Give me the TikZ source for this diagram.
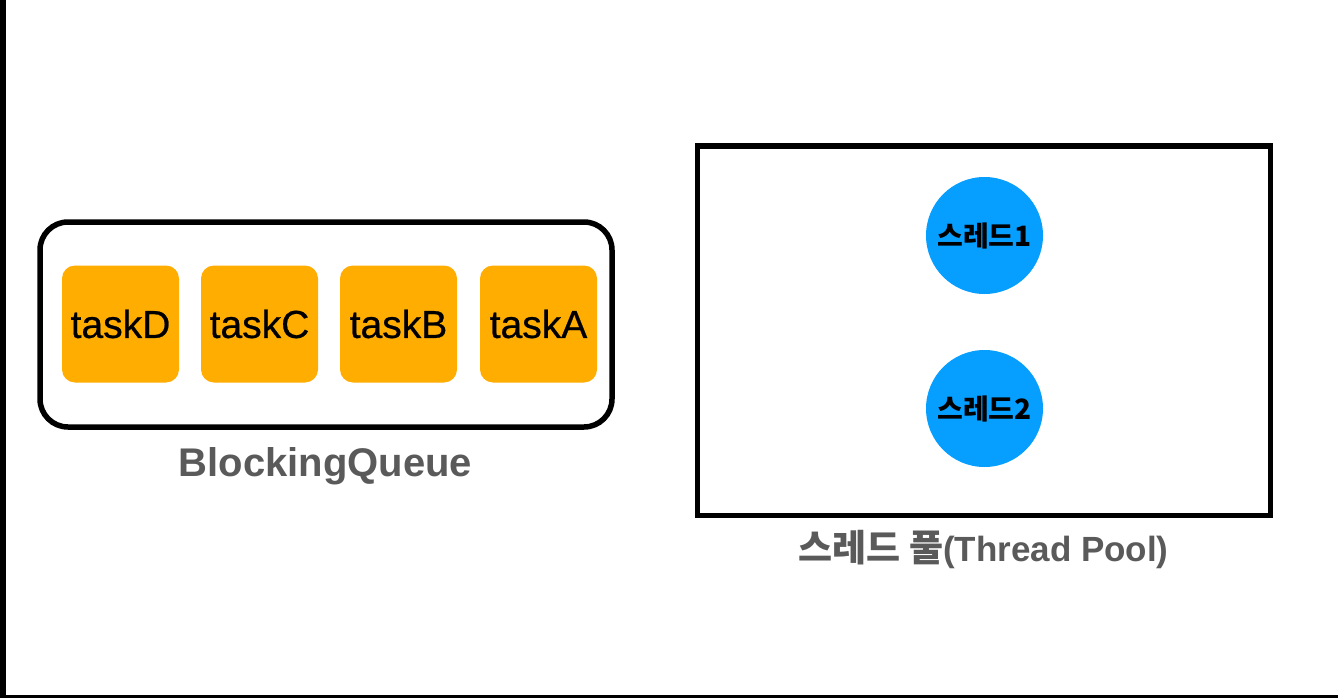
\documentclass[tikz,border=0pt]{standalone}
\usepackage{fontspec}
\setmainfont{Liberation Sans}
\newfontfamily\krfont{Noto Sans CJK KR}
\newfontfamily\medfont[FakeBold=0.6]{Liberation Sans}
\definecolor{taskorange}{HTML}{FFAD00}
\definecolor{threadblue}{HTML}{069FFF}
\definecolor{labelgray}{HTML}{5A5A5A}
\begin{document}
\begin{tikzpicture}[x=1pt,y=-1pt,
  taskbox/.style={fill=taskorange, rounded corners=13pt, minimum width=117pt, minimum height=117pt, inner sep=0pt,
    font=\medfont\fontsize{39}{46}\selectfont, text=black},
  threadnode/.style={circle, fill=threadblue, minimum size=117pt, inner sep=0pt,
    font=\krfont\bfseries\fontsize{28}{32}\selectfont, text=black},
  caption/.style={text=labelgray, font=\bfseries\fontsize{40}{46}\selectfont, inner sep=0pt}]
\useasboundingbox (0,0) rectangle (1338,698);
\fill[white] (0,0) rectangle (1338,698);
% frame lines
\coordinate (lt) at (3,0);
\coordinate (lb) at (3,698);
\coordinate (bl) at (0,696.7);
\coordinate (br) at (1338,696.7);
\draw[line width=5.5pt] (lt) -- (lb);
\draw[line width=2.8pt] (bl) -- (br);
% blocking queue
\node[draw=black, line width=5.5pt, rounded corners=28pt, minimum width=572pt, minimum height=205pt, inner sep=0pt] (queue) at (326,324.5) {};
\node[taskbox] (taskD) at (120.5,324) {taskD};
\node[taskbox] (taskC) at (259.5,324) {taskC};
\node[taskbox] (taskB) at (398.5,324) {taskB};
\node[taskbox] (taskA) at (538.5,324) {taskA};
\node[caption] (qlabel) at (325.5,466) {BlockingQueue};
% thread pool
\node[draw=black, line width=5.5pt, minimum width=573pt, minimum height=369.5pt, inner sep=0pt] (pool) at (984,330.75) {};
\node[threadnode] (t1) at (984.5,235.5) {스레드1};
\node[threadnode] (t2) at (984.5,408.5) {스레드2};
\node[caption, font=\bfseries\fontsize{35}{42}\selectfont] (plabel) at (983.5,550) {{\krfont\bfseries\fontsize{37}{42}\selectfont 스레드 풀}(Thread Pool)};
\end{tikzpicture}
\end{document}
